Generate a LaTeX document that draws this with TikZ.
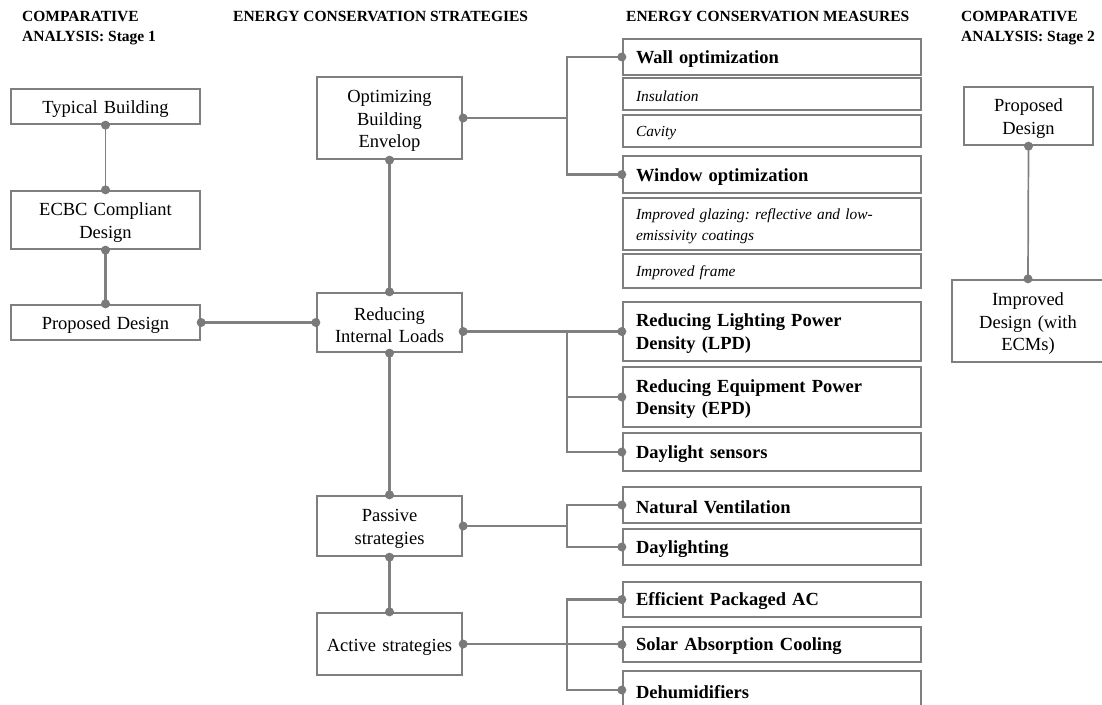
\documentclass[tikz,border=0pt]{standalone}
\usepackage{fontspec}
\setmainfont{Liberation Serif}
\frenchspacing
\definecolor{bgray}{HTML}{7F7F7F}
\definecolor{lgray}{HTML}{808080}
\definecolor{dgray}{HTML}{7A7A7A}
\newcommand\bodyfnt{\fontsize{18.5}{22.5}\selectfont}
\newcommand\headfnt{\fontsize{15.5}{20}\selectfont\bfseries}
\newcommand\itfnt{\fontsize{15.4}{21}\selectfont\itshape}
\begin{document}
\begin{tikzpicture}[x=1pt,y=-1pt,
  box/.style={draw=bgray, line width=2.3pt, inner sep=0pt, align=center, font=\bodyfnt, text height=18pt},
  mbox/.style={draw=bgray, line width=2.3pt, inner xsep=13pt, inner ysep=0pt, text width=272pt, align=left, minimum width=298pt, font=\bodyfnt\bfseries, text height=17pt},
  ibox/.style={mbox, font=\itfnt, text height=15pt},
  conn/.style={draw=lgray, line width=2.3pt},
  thinconn/.style={draw=lgray, line width=1.7pt},
  hdr/.style={anchor=north west, inner sep=0pt, align=left, font=\headfnt},
  dotc/.style={fill=dgray}
]
\useasboundingbox (0,0) rectangle (1102,704);
\fill[white] (0,0) rectangle (1102,704);

% headers
\node[hdr] (h1) at (22,11) {COMPARATIVE\\ANALYSIS: Stage 1};
\node[hdr] (h2) at (233,11) {ENERGY CONSERVATION STRATEGIES};
\node[hdr] (h3) at (626,11) {ENERGY CONSERVATION MEASURES};
\node[hdr] (h4) at (961,11) {COMPARATIVE\\ANALYSIS: Stage 2};

% left column
\node[box, text width=189pt, minimum height=35pt] (tb) at (105.5,106.5) {Typical Building};
\node[box, text width=189pt, minimum height=58pt] (ecbc) at (105.5,220) {ECBC Compliant\\Design};
\node[box, text width=189pt, minimum height=35pt] (pd) at (105.5,322.5) {Proposed Design};

% middle column
\node[box, text width=145pt, minimum height=82pt] (opt) at (389.5,118) {Optimizing\\Building\\Envelop};
\node[box, text width=145pt, minimum height=59pt] (rd) at (389.5,322.5) {Reducing\\Internal Loads};
\node[box, text width=145pt, minimum height=60pt] (ps) at (389.5,526) {Passive\\strategies};
\node[box, text width=145pt, minimum height=62pt] (as) at (389.5,644) {Active strategies};

% measures column
\node[mbox, minimum height=36pt] (wall) at (772,57) {Wall optimization};
\node[ibox, minimum height=32pt] (ins) at (772,94) {Insulation};
\node[ibox, minimum height=32pt] (cav) at (772,131) {Cavity};
\node[mbox, minimum height=37pt] (win) at (772,174.5) {Window optimization};
\node[ibox, minimum height=52pt] (glz) at (772,224) {Improved glazing: reflective and low-\\emissivity coatings};
\node[ibox, minimum height=34pt] (frm) at (772,271) {Improved frame};
\node[mbox, minimum height=59pt] (lpd) at (772,331.5) {Reducing Lighting Power\\Density (LPD)};
\node[mbox, minimum height=60pt] (epd) at (772,397) {Reducing Equipment Power\\Density (EPD)};
\node[mbox, minimum height=38pt] (dls) at (772,452) {Daylight sensors};
\node[mbox, minimum height=36pt] (nv) at (772,505) {Natural Ventilation};
\node[mbox, minimum height=36pt] (dl) at (772,547) {Daylighting};
\node[mbox, minimum height=35pt] (epac) at (772,599.5) {Efficient Packaged AC};
\node[mbox, minimum height=35pt] (sac) at (772,644.5) {Solar Absorption Cooling};
\node[mbox, minimum height=38pt] (deh) at (772,690) {Dehumidifiers};

% stage 2
\node[box, text width=129pt, minimum height=58pt] (pd2) at (1028.5,116) {Proposed\\Design};
\node[box, text width=152pt, minimum height=82pt] (imp) at (1028,321) {Improved\\Design (with\\ECMs)};

\coordinate (tr) at (567,0);

% connectors
\draw[thinconn] (tb.south) -- (ecbc.north);
\draw[conn] (ecbc.south) -- (pd.north);
\draw[conn] (pd.east) -- (rd.west);
\draw[conn] (opt.south) -- (rd.north);
\draw[conn] (rd.south) -- (ps.north);
\draw[conn] (ps.south) -- (as.north);
\draw[conn] (opt.east) -- (opt.east -| tr);
\draw[conn] (wall.west) -- (wall.west -| tr) -- (win.west -| tr) -- (win.west);
\draw[conn] (lpd.west -| rd.east) -- (lpd.west);
\draw[conn] (lpd.west -| tr) -- (dls.west -| tr) -- (dls.west);
\draw[conn] (epd.west -| tr) -- (epd.west);
\draw[conn] (ps.east) -- (ps.east -| tr);
\draw[conn] (nv.west) -- (nv.west -| tr) -- (dl.west -| tr) -- (dl.west);
\draw[conn] (as.east) -- (as.east -| sac.west);
\draw[conn] (epac.west) -- (epac.west -| tr) -- (deh.west -| tr) -- (deh.west);
\draw[thinconn] (pd2.south) -- (imp.north);

% dots
\foreach \p in {tb.south, ecbc.north, ecbc.south, pd.north, pd.east, rd.west,
  opt.east, opt.south, rd.north, rd.south, ps.north, ps.south, ps.east,
  as.north, as.east, wall.west, win.west, lpd.west, epd.west, dls.west,
  nv.west, dl.west, epac.west, sac.west, deh.west, pd2.south, imp.north}
  \fill[dotc] (\p) circle (4.5pt);
\fill[dotc] (lpd.west -| rd.east) circle (4.5pt);
\end{tikzpicture}
\end{document}
